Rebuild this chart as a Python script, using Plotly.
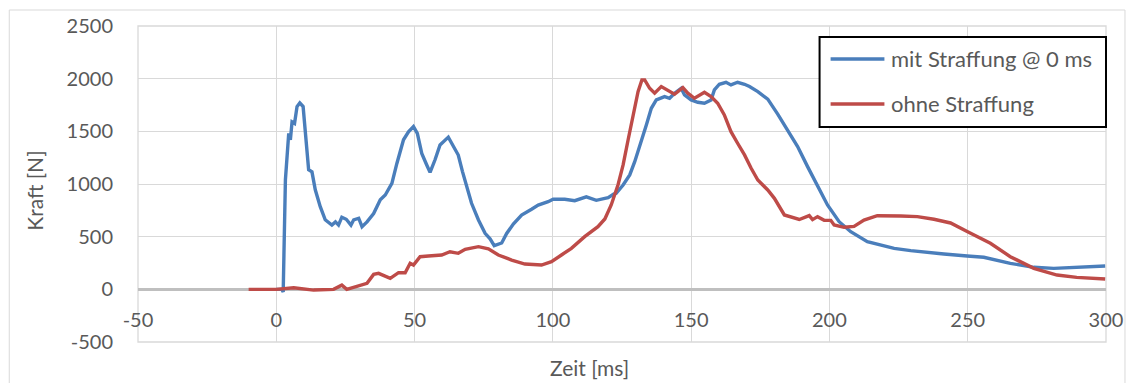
import plotly.graph_objects as go

# Zeit [ms] / Kraft [N] — mit Straffung @ 0 ms
mit_t = [0, 2.0, 2.5, 3.0, 3.3, 4.5, 5.1, 5.7, 6.6, 7.5, 8.5, 9.7, 10.5, 11.7, 12.9, 14.1,
         15.9, 17.7, 20.1, 21.4, 22.5, 23.7, 25.3, 27.0, 28.0, 29.8, 31.0, 32.8, 35.2, 37.6,
         39.4, 41.8, 43.6, 46.0, 47.8, 49.6, 51.0, 52.6, 54.4, 55.6, 57.4, 59.2, 62.2, 64.0,
         65.8, 67.3, 68.8, 70.6, 73.1, 75.5, 77.3, 78.8, 81.5, 83.3, 85.7, 88.7, 92.3, 94.7,
         98.3, 100.1, 104.3, 107.9, 112.1, 115.7, 118.8, 120.0, 122.0, 122.9, 125.4, 127.8,
         129.6, 132.0, 133.8, 135.6, 137.4, 140.4, 142.2, 144.0, 146.4, 147.6, 150.0, 152.4,
         154.8, 157.2, 158.4, 160.2, 162.6, 164.4, 166.8, 169.3, 171.1, 174.1, 177.7, 181.3,
         184.9, 188.5, 192.1, 195.7, 199.3, 203.5, 207.7, 213.7, 218.5, 223.4, 229.4, 235.0,
         241.4, 249.8, 255.8, 265.4, 273.9, 281.1, 289.4, 299.7]
mit_f = [0, 0, -25, 600, 1040, 1480, 1420, 1590, 1575, 1735, 1770, 1735, 1510, 1135, 1115, 945,
         785, 660, 610, 640, 610, 685, 665, 610, 660, 675, 595, 640, 720, 850,
         895, 1005, 1195, 1420, 1495, 1545, 1480, 1290, 1180, 1110, 1230, 1370, 1445, 1355,
         1275, 1120, 975, 817, 658, 532, 480, 415, 440, 530, 620, 705, 760, 800,
         832, 855, 855, 842, 878, 845, 864, 870, 905, 912, 990, 1086,
         1212, 1402, 1561, 1719, 1798, 1830, 1814, 1862, 1909, 1846, 1798, 1776,
         1767, 1798, 1893, 1947, 1966, 1941, 1966, 1947, 1925, 1877, 1806, 1664,
         1513, 1355, 1165, 975, 801, 642, 547, 452, 421, 389, 367, 350,
         335, 316, 304, 247, 209, 199, 209, 221]

# ohne Straffung
ohne_t = [-10, 0, 6.3, 13.5, 20.7, 23.7, 25.5, 31.0, 32.8, 35.2, 37.0, 41.2, 44.2, 46.6, 48.4,
          49.6, 52.0, 55.0, 59.8, 62.8, 65.8, 68.3, 73.1, 76.7, 80.3, 85.1, 89.9, 95.9, 99.5,
          103.1, 106.7, 111.5, 116.3, 118.8, 121.1, 123.6, 125.4, 127.2, 129.0, 130.8, 132.2,
          133.2, 135.0, 136.8, 139.2, 141.6, 144.0, 147.0, 148.8, 151.2, 154.8, 157.2, 159.6,
          162.0, 164.4, 166.8, 169.3, 171.7, 174.1, 177.7, 180.1, 183.7, 189.1, 192.7, 193.9,
          195.7, 198.1, 200.5, 201.7, 205.3, 208.9, 212.5, 217.3, 225.8, 231.8, 237.8, 243.8,
          249.8, 258.2, 265.4, 273.9, 282.3, 289.4, 299.7]
ohne_f = [0, 0, 15, -7, 0, 40, 0, 47, 57, 142, 152, 104, 158, 158, 247,
          230, 310, 316, 326, 357, 342, 380, 405, 385, 326, 278, 240, 231, 262,
          326, 389, 500, 595, 668, 801, 995, 1181, 1418, 1656, 1877, 1988,
          1988, 1909, 1862, 1925, 1893, 1852, 1915, 1862, 1814, 1871, 1830, 1767,
          1656, 1497, 1387, 1276, 1149, 1038, 943, 864, 706, 663, 700, 662,
          690, 655, 655, 611, 589, 598, 658, 699, 696, 690, 665, 630,
          548, 437, 310, 199, 136, 114, 98]

series_names = ["mit Straffung @ 0 ms", "ohne Straffung"]
series_colors = ["#4a7ebb", "#be4b48"]

# axis ticks (hyphen-minus as in the spreadsheet style)
x_ticks = [-50, 0, 50, 100, 150, 200, 250, 300]
x_ticktext = ["-50", "0", "50", "100", "150", "200", "250", "300"]
y_ticks = [-500, 0, 500, 1000, 1500, 2000, 2500]
y_ticktext = ["-500", "0", "500", "1000", "1500", "2000", "2500"]

FONT = "Lato"
TEXT = "#595959"
GRID = "#d9d9d9"
LINE_W = 3.4

fig = go.Figure()
for name, t, f, color in zip(series_names, [mit_t, ohne_t], [mit_f, ohne_f], series_colors):
    fig.add_trace(go.Scatter(
        x=t, y=f, mode="lines", name=name,
        line=dict(color=color, width=LINE_W), showlegend=False,
    ))

# legend drawn as a framed box in paper coordinates
legend_box = dict(x0=0.7041, x1=1.0, y0=0.6804, y1=0.9652)
legend_rows = [0.8956, 0.7532]
legend_sym = (0.7155, 0.7711)
legend_text_x = 0.7763

shapes = [
    # plot frame
    dict(type="rect", xref="paper", yref="paper", x0=0, x1=1, y0=0, y1=1,
         line=dict(color=GRID, width=1.3), layer="below"),
    # outer chart border
    dict(type="rect", xref="paper", yref="paper", x0=-0.133, x1=1.0196,
         y0=-0.16, y1=1.0506, line=dict(color=GRID, width=1)),
    dict(type="rect", xref="paper", yref="paper", fillcolor="white",
         line=dict(color="black", width=2), **legend_box),
]
annotations = [
    dict(text="Zeit [ms]", xref="paper", yref="paper", x=0.466, y=-0.082,
         showarrow=False, xanchor="center", yanchor="middle",
         font=dict(family=FONT, size=21, color=TEXT)),
    dict(text="Kraft [N]", xref="paper", yref="paper", x=-0.107, y=0.48,
         showarrow=False, xanchor="center", yanchor="middle", textangle=-90,
         font=dict(family=FONT, size=21, color=TEXT)),
]
for name, color, ry in zip(series_names, series_colors, legend_rows):
    shapes.append(dict(type="line", xref="paper", yref="paper",
                       x0=legend_sym[0], x1=legend_sym[1], y0=ry, y1=ry,
                       line=dict(color=color, width=LINE_W)))
    annotations.append(dict(text=name, xref="paper", yref="paper", x=legend_text_x, y=ry,
                            showarrow=False, xanchor="left", yanchor="middle",
                            font=dict(family=FONT, size=22, color=TEXT)))

fig.update_layout(
    width=1135, height=383, autosize=False,
    margin=dict(l=138, r=27, t=26, b=41),
    paper_bgcolor="white", plot_bgcolor="white",
    font=dict(family=FONT, size=20, color=TEXT),
    showlegend=False,
    xaxis=dict(
        range=[-50, 300], tickvals=x_ticks, ticktext=x_ticktext,
        showgrid=True, gridcolor=GRID, gridwidth=1.3,
        zeroline=False, showline=False, ticks="",
        anchor="free", position=0.115,
        tickfont=dict(family=FONT, size=20, color=TEXT),
    ),
    yaxis=dict(
        range=[-500, 2500], tickvals=y_ticks, ticktext=y_ticktext,
        showgrid=True, gridcolor=GRID, gridwidth=1.3,
        zeroline=True, zerolinecolor="#bfbfbf", zerolinewidth=3,
        showline=False, ticks="outside", ticklen=20, tickcolor="rgba(0,0,0,0)",
        tickfont=dict(family=FONT, size=20, color=TEXT),
    ),
    shapes=shapes,
    annotations=annotations,
)

fig.write_html("out.html")
